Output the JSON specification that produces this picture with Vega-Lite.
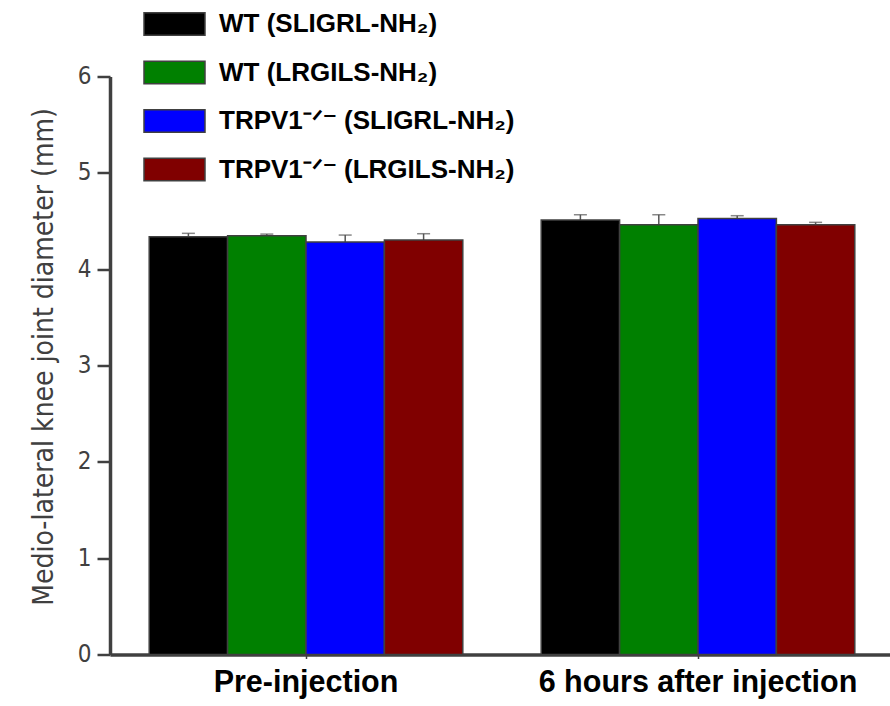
{
  "$schema": "https://vega.github.io/schema/vega-lite/v6.json",
  "width": 784,
  "height": 578,
  "autosize": {"type": "none"},
  "padding": {"left": 110, "top": 76.5, "right": 0, "bottom": 51.5},
  "background": "white",
  "data": {
    "values": [
      {"time": "Pre-injection", "group": "WT (SLIGRL-NH₂)", "mean": 4.336, "hi": 4.372},
      {"time": "Pre-injection", "group": "WT (LRGILS-NH₂)", "mean": 4.347, "hi": 4.364},
      {"time": "Pre-injection", "group": "TRPV1⁻ᐟ⁻ (SLIGRL-NH₂)", "mean": 4.281, "hi": 4.354},
      {"time": "Pre-injection", "group": "TRPV1⁻ᐟ⁻ (LRGILS-NH₂)", "mean": 4.302, "hi": 4.368},
      {"time": "6 hours after injection", "group": "WT (SLIGRL-NH₂)", "mean": 4.510, "hi": 4.565},
      {"time": "6 hours after injection", "group": "WT (LRGILS-NH₂)", "mean": 4.461, "hi": 4.565},
      {"time": "6 hours after injection", "group": "TRPV1⁻ᐟ⁻ (SLIGRL-NH₂)", "mean": 4.527, "hi": 4.555},
      {"time": "6 hours after injection", "group": "TRPV1⁻ᐟ⁻ (LRGILS-NH₂)", "mean": 4.461, "hi": 4.486}
    ]
  },
  "encoding": {
    "x": {
      "field": "time",
      "type": "nominal",
      "sort": ["Pre-injection", "6 hours after injection"],
      "scale": {"paddingInner": 0.2, "paddingOuter": 0.1},
      "axis": {
        "title": null,
        "labelAngle": 0,
        "labelFont": "Liberation Sans",
        "labelFontWeight": "bold",
        "labelFontSize": 30.5,
        "labelColor": "black",
        "labelPadding": 9,
        "labelLimit": 600,
        "domainColor": "#404040",
        "domainWidth": 3.5,
        "tickColor": "#404040",
        "tickWidth": 1.5,
        "tickSize": 4
      }
    },
    "xOffset": {
      "field": "group",
      "type": "nominal",
      "sort": ["WT (SLIGRL-NH₂)", "WT (LRGILS-NH₂)", "TRPV1⁻ᐟ⁻ (SLIGRL-NH₂)", "TRPV1⁻ᐟ⁻ (LRGILS-NH₂)"],
      "scale": {"paddingInner": 0, "paddingOuter": 0}
    }
  },
  "layer": [
    {
      "mark": {"type": "rule", "color": "#555555", "strokeWidth": 1.5},
      "encoding": {
        "y": {"field": "mean", "type": "quantitative"},
        "y2": {"field": "hi"}
      }
    },
    {
      "mark": {"type": "tick", "color": "#555555", "thickness": 1.5, "size": 13},
      "encoding": {
        "y": {"field": "hi", "type": "quantitative"}
      }
    },
    {
      "mark": {"type": "bar", "stroke": "#404040", "strokeWidth": 1.5, "opacity": 1},
      "encoding": {
        "y": {
          "field": "mean",
          "type": "quantitative",
          "scale": {"domain": [0, 6], "nice": false},
          "axis": {
            "title": "Medio-lateral knee joint diameter (mm)",
            "titleFont": "DejaVu Sans Condensed, Roboto, sans-serif",
            "titleFontWeight": "normal",
            "titleFontSize": 28,
            "titleColor": "#404040",
            "titlePadding": 19,
            "titleY": 280,
            "values": [0, 0.5, 1, 1.5, 2, 2.5, 3, 3.5, 4, 4.5, 5, 5.5, 6],
            "format": "d",
            "labelExpr": "datum.value % 1 === 0 ? format(datum.value, 'd') : ''",
            "labelFont": "DejaVu Sans Condensed, Roboto, sans-serif",
            "labelFontSize": 24,
            "labelColor": "#404040",
            "labelPadding": 6,
            "grid": false,
            "domainColor": "#404040",
            "domainWidth": 3.5,
            "tickColor": "#404040",
            "tickWidth": 2.5,
            "tickSize": {"condition": {"test": "datum.value % 1 !== 0", "value": 6}, "value": 13}
          }
        },
        "color": {
          "field": "group",
          "type": "nominal",
          "sort": ["WT (SLIGRL-NH₂)", "WT (LRGILS-NH₂)", "TRPV1⁻ᐟ⁻ (SLIGRL-NH₂)", "TRPV1⁻ᐟ⁻ (LRGILS-NH₂)"],
          "scale": {"range": ["#000000", "#008000", "#0000ff", "#800000"]},
          "legend": {
            "title": null,
            "orient": "none",
            "legendX": 33,
            "legendY": -84,
            "symbolType": "M-1,-0.37L1,-0.37L1,0.37L-1,0.37Z",
            "symbolSize": 3721,
            "symbolStrokeColor": "#404040",
            "symbolStrokeWidth": 1.5,
            "symbolOpacity": 1,
            "labelFont": "Liberation Sans",
            "labelFontWeight": "bold",
            "labelFontSize": 26,
            "labelColor": "black",
            "labelOffset": 13,
            "labelLimit": 500,
            "rowPadding": 2.5
          }
        }
      }
    }
  ],
  "config": {
    "view": {"stroke": null},
    "axis": {"labelOverlap": false}
  }
}
